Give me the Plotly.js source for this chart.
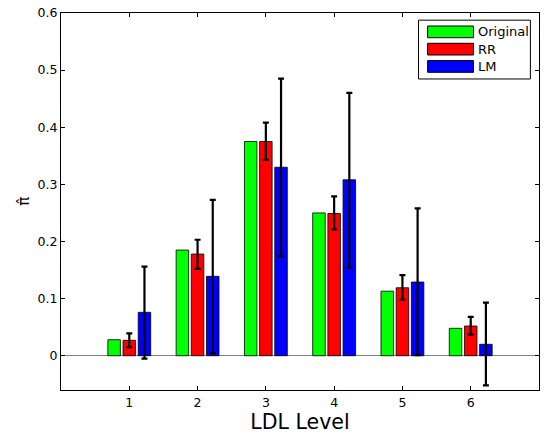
<!DOCTYPE html>
<html>
<head>
<meta charset="utf-8">
<script src="https://cdn.plot.ly/plotly-3.0.1.min.js"></script>
<style>
  html, body { margin: 0; padding: 0; background: #fff; }
  #chart { width: 544px; height: 434px; }
</style>
</head>
<body>
<div id="chart"></div>
<script>
// LDL level categories
const levels = [1, 2, 3, 4, 5, 6];

// Series names and colours
const seriesNames = ['Original', 'RR', 'LM'];
const seriesColors = ['#00ff00', '#ff0000', '#0000ff'];

// Estimated proportions per level
const original = [0.028, 0.185, 0.375, 0.250, 0.113, 0.048];
const rr       = [0.027, 0.178, 0.375, 0.249, 0.119, 0.052];
const lm       = [0.076, 0.139, 0.330, 0.308, 0.129, 0.020];

// Confidence bounds (upper / lower) for RR and LM
const rrUpper = [0.039, 0.203, 0.408, 0.279, 0.141, 0.068];
const rrLower = [0.015, 0.152, 0.343, 0.221, 0.098, 0.037];
const lmUpper = [0.156, 0.273, 0.485, 0.460, 0.258, 0.093];
const lmLower = [-0.005, 0.004, 0.174, 0.154, 0.001, -0.052];

const FONT = 'DejaVu Sans, Arial, sans-serif';

function errorSpec(vals, upper, lower) {
  return {
    type: 'data',
    symmetric: false,
    array: upper.map((u, i) => u - vals[i]),
    arrayminus: vals.map((v, i) => v - lower[i]),
    color: '#000000',
    thickness: 2.2,
    width: 3
  };
}

const barLine = { color: '#000000', width: 0.8 };

const traces = [
  {
    type: 'bar', name: seriesNames[0], x: levels, y: original,
    marker: { color: seriesColors[0], line: barLine },
    showlegend: false
  },
  {
    type: 'bar', name: seriesNames[1], x: levels, y: rr,
    marker: { color: seriesColors[1], line: barLine },
    error_y: errorSpec(rr, rrUpper, rrLower),
    showlegend: false
  },
  {
    type: 'bar', name: seriesNames[2], x: levels, y: lm,
    marker: { color: seriesColors[2], line: barLine },
    error_y: errorSpec(lm, lmUpper, lmLower),
    showlegend: false
  }
];

// Boxed legend with wide colour swatches, top-right inside the axes
const shapes = [{
  type: 'rect', xref: 'paper', yref: 'paper',
  x0: 0.748, x1: 0.982, y0: 0.825, y1: 0.981,
  line: { color: '#000000', width: 1 }, fillcolor: '#ffffff', layer: 'above'
}];
const annotations = [];
const rowTop = 0.9655, rowStep = 0.0459, swH = 0.031;
seriesNames.forEach((name, i) => {
  const top = rowTop - i * rowStep;
  shapes.push({
    type: 'rect', xref: 'paper', yref: 'paper',
    x0: 0.767, x1: 0.863, y0: top - swH, y1: top,
    line: { color: '#000000', width: 1 }, fillcolor: seriesColors[i], layer: 'above'
  });
  annotations.push({
    xref: 'paper', yref: 'paper', x: 0.868, y: top - swH / 2,
    xanchor: 'left', yanchor: 'middle', showarrow: false,
    text: name, font: { family: FONT, size: 13, color: '#000000' }
  });
});

// Y axis label (pi-hat), rotated, placed left of the tick labels
annotations.push({
  xref: 'paper', yref: 'paper', x: -0.079, y: 0.5,
  xanchor: 'center', yanchor: 'middle', showarrow: false, textangle: -90,
  text: 'π\u0302', font: { family: FONT, size: 15, color: '#000000' }
});

const layout = {
  width: 544, height: 434,
  margin: { l: 61, r: 5, t: 13, b: 44, pad: 0 },
  paper_bgcolor: '#ffffff', plot_bgcolor: '#ffffff',
  barmode: 'group', bargap: 0.333, bargroupgap: 0.175,
  showlegend: false,
  font: { family: FONT, size: 12.5, color: '#000000' },
  xaxis: {
    range: [0, 7], tickvals: levels, ticktext: levels.map(String),
    ticks: 'inside', ticklen: 4, tickcolor: '#000000', tickwidth: 1,
    showline: true, linecolor: '#000000', linewidth: 1, mirror: 'ticks',
    showgrid: false, zeroline: false,
    tickfont: { family: FONT, size: 12.5 },
    ticklabelstandoff: 1,
    title: { text: 'LDL Level', font: { family: FONT, size: 20.5 }, standoff: 3 }
  },
  yaxis: {
    range: [-0.06, 0.6], tickvals: [0, 0.1, 0.2, 0.3, 0.4, 0.5, 0.6],
    ticktext: ['0', '0.1', '0.2', '0.3', '0.4', '0.5', '0.6'],
    ticks: 'inside', ticklen: 4, tickcolor: '#000000', tickwidth: 1,
    showline: true, linecolor: '#000000', linewidth: 1, mirror: 'ticks',
    showgrid: false,
    zeroline: true, zerolinecolor: '#808080', zerolinewidth: 1,
    tickfont: { family: FONT, size: 12.5 }
  },
  shapes: shapes,
  annotations: annotations
};

Plotly.newPlot('chart', traces, layout, { displayModeBar: false, staticPlot: true });
</script>
</body>
</html>
